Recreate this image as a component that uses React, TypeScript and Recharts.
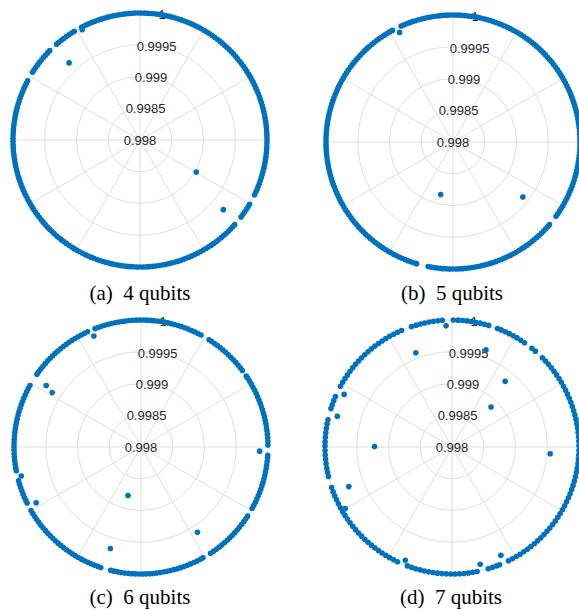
import React from 'react';
import { RadarChart, Radar, PolarGrid, PolarAngleAxis, PolarRadiusAxis } from 'recharts';

// radial scale (fidelity) and the 30° spokes of the polar grid
const R_TICKS = [0.998, 0.9985, 0.999, 0.9995, 1];
const THETA_TICKS = [0, 30, 60, 90, 120, 150, 180, 210, 240, 270, 300, 330];

// points that sit on the outer ring (fidelity ~1), angle in degrees
const RING_A = [
  0, 1.4, 2.8, 4.3, 5.7, 7.1, 8.5, 9.9, 11.4, 12.8, 14.2, 15.6, 17, 18.5, 19.9, 21.3, 22.7, 24.1, 25.6, 27, 28.4,
  29.8, 31.2, 32.7, 34.1, 35.5, 36.9, 38.3, 39.8, 41.2, 42.6, 44, 45.4, 46.9, 48.3, 49.7, 51.1, 52.5, 54, 55.4,
  56.8, 58.2, 59.6, 61.1, 62.5, 63.9, 65.3, 66.7, 68.2, 69.6, 71, 72.4, 73.8, 75.3, 76.7, 78.1, 79.5, 80.9, 82.4,
  83.8, 85.2, 86.6, 88, 89.5, 90.9, 92.3, 93.7, 95.1, 96.6, 98, 99.4, 100.8, 102.2, 103.7, 105.1, 106.5, 107.9,
  109.3, 110.8, 112.2, 113.6, 115, 116.4, 117.4,
  121.2, 122.6, 124, 125.4, 126.9, 128.3, 129.7, 131,
  135.3, 136.7, 138.1, 139.5, 141, 142.4, 143.8, 145.2, 146.6, 147.8,
  152.2, 153.6, 155, 156.4, 157.9, 159.3, 160.7, 162.1, 163.5, 165, 166.4, 167.8, 169.2, 170.6, 172.1, 173.5,
  174.9, 176.3, 177.7, 179.2, 180.6, 182, 183.4, 184.8, 186.3, 187.7, 189.1, 190.5, 191.9, 193.4, 194.8, 196.2,
  197.6, 199, 200.5, 201.9, 203.3, 204.7, 206.1, 207.6, 209, 210.4, 211.8, 213.2, 214.7, 216.1, 217.5, 218.9,
  220.3, 221.8, 223.2, 224.6, 226, 227.4, 228.9, 230.3, 231.7, 233.1, 234.5, 236, 237.4, 238.8, 240.2, 241.6,
  243.1, 244.5, 245.9, 247.3, 248.7, 250.2, 251.6, 253, 254.4, 255.8, 257.3, 258.7, 260.1, 261.5, 262.9, 264.4,
  265.8, 267.2, 268.6, 270, 271.5, 272.9, 274.3, 275.7, 277.1, 278.6, 280, 281.4, 282.8, 284.2, 285.7, 287.1,
  288.5, 289.9, 291.3, 292.8, 294.2, 295.6, 297, 298.4, 299.9, 301.3, 302.7, 304.1, 305.5, 307, 308.4, 309.8,
  311.2, 312.6, 314.1, 315.5, 316.9, 318.2,
  322.7, 324.1, 325.5, 326.9, 328.3, 329.6,
  334.3, 335.7, 337.1, 338.5, 340, 341.4, 342.8, 344.2, 345.6, 347.1, 348.5, 349.9, 351.3, 352.7, 354.2, 355.6,
  357, 358.5,
];
const INNER_A: [number, number][] = [
  [117.7, 0.99996], [132.6, 0.99965], [320.1, 0.99971], [330.3, 0.99902],
];

const RING_B = [
  0.7, 2.1, 3.5, 4.9, 6.4, 7.8, 9.2, 10.6, 12, 13.5, 14.9, 16.3, 17.7, 19.1, 20.6, 22, 23.4, 24.8, 26.2, 27.7,
  29.1, 30.5, 31.9, 33.3, 34.8, 36.2, 37.6, 39, 40.4, 41.9, 43.3, 44.7, 46.1, 47.5, 49, 50.4, 51.8, 53.2, 54.6,
  56.1, 57.5, 58.9, 60.3, 61.7, 63.2, 64.6, 66, 67.4, 68.8, 70.3, 71.7, 73.1, 74.5, 75.9, 77.4, 78.8, 80.2, 81.6,
  83, 84.5, 85.9, 87.3, 88.7, 90.1, 91.6, 93, 94.4, 95.8, 97.2, 98.7, 100.1, 101.5, 102.9, 104.3, 105.8, 107.2,
  108.6, 110, 111.4, 112.9, 114.1,
  118.5, 119.9, 121.3, 122.7, 124.2, 125.6, 127, 128.4, 129.8, 131.3, 132.7, 134.1, 135.5, 136.9, 138.4, 139.8,
  141.2, 142.6, 144, 145.5, 146.9, 148.3, 149.7, 151.1, 152.6, 154, 155.4, 156.8, 158.2, 159.7, 161.1, 162.5,
  163.9, 165.3, 166.8, 168.2, 169.6, 171, 172.4, 173.9, 175.3, 176.7, 178.1, 179.5, 181, 182.4, 183.8, 185.2,
  186.6, 188.1, 189.5, 190.9, 192.3, 193.7, 195.2, 196.6, 198, 199.4, 200.8, 202.3, 203.7, 205.1, 206.5, 207.9,
  209.4, 210.8, 212.2, 213.6, 215, 216.5, 217.9, 219.3, 220.7, 222.1, 223.6, 225, 226.4, 227.8, 229.2, 230.7,
  232.1, 233.5, 234.9, 236.3, 237.8, 239.2, 240.6, 242, 243.4, 244.9, 246.3, 247.7, 249.1, 250.5, 252, 253.3,
  258.7, 260.1, 261.5, 262.9, 264.4, 265.8, 267.2, 268.6, 270, 271.5, 272.9, 274.3, 275.7, 277.1, 278.6, 280,
  281.4, 282.8, 284.2, 285.7, 287.1, 288.5, 289.9, 291.3, 292.8, 294.2, 295.6, 297, 298.4, 299.9, 301.3, 302.7,
  304.1, 305.5, 307, 308.4, 309.8, 311.2, 312.6, 314.1, 315.5, 316.9, 318.3, 319.4,
  324.2, 325.6, 327, 328.5, 329.9, 331.3, 332.7, 334.1, 335.6, 337, 338.4, 339.8, 341.2, 342.7, 344.1, 345.5,
  346.9, 348.3, 349.8, 351.2, 352.6, 354, 355.4, 356.9, 358.3, 359.6,
];
const INNER_B: [number, number][] = [
  [116, 0.99992], [256.8, 0.99885], [321.8, 0.9994],
];

const RING_C = [
  0.9, 2.5, 4.1, 5.7, 7.3, 8.9, 10.5, 12.1, 13.7, 15.3, 16.9, 18.5, 20.1, 21.7, 23.3, 24.9, 26.5, 28.1, 29.7,
  31.3, 32.9, 34,
  37, 38.6, 40.2, 41.8, 43.4, 45, 46.6, 48.2, 49.8, 51.4, 53, 54.6, 56.2, 57.6,
  61.8, 63.4, 65, 66.6, 68.2, 69.8, 71.4, 73, 74.6, 76.2, 77.8, 79.4, 81, 82.6, 84.2, 85.8, 87.4, 89, 90.6, 92.2,
  93.8, 95.4, 97, 98.6, 100.2, 101.8, 103.4, 105, 106.6, 108.2, 109.8, 111.2,
  114.9, 116.5, 118.1, 119.7, 121.3, 122.9, 124.5, 126.1, 127.7, 129.3, 130.9, 132.5, 134.1, 135.7, 137.3, 138.9,
  140.5, 142.1, 143.7, 145,
  151, 152.6, 154.2, 155.8, 157.4, 159, 160.6, 162.2, 163.8, 165.4, 167, 168.6, 170.2, 171.8, 173.4, 175, 176.6,
  178.2, 179.8, 181.4, 183, 184.6, 186.2, 187.8, 189.4, 190.8,
  195.4, 197, 198.6, 200.2, 201.8, 203.4, 205, 206.2,
  210, 211.6, 213.2, 214.8, 216.4, 218, 219.6, 221.2, 222.8, 224.4, 226, 227.6, 229.2, 230.8, 232.4, 234, 235.6,
  237.2, 238.8, 240.4, 242, 243.6, 245.2, 246.8, 248.4, 250, 251.5,
  256.2, 257.8, 259.4, 261, 262.6, 264.2, 265.8, 267.4, 269, 270.6, 272.2, 273.8, 275.4, 277, 278.6, 280.2, 281.8,
  283.4, 285, 286.6, 288.2, 289.8, 291.4, 293, 294.6, 296.2, 297.8, 299.2,
  303.2, 304.8, 306.4, 308, 309.6, 311.2, 312.8, 314.4, 316, 317.6, 319.2, 320.8, 322.4, 324, 325.6, 327,
  331, 332.6, 334.2, 335.8, 337.4, 339, 340.6, 342.2, 343.8, 345.4, 347, 348.6, 350.2, 351.8, 353.4, 355, 356.3,
];
const INNER_C: [number, number][] = [
  [113, 0.9999], [147, 0.99978], [148.5, 0.99964], [193.6, 0.99994], [208, 0.99987],
  [253.2, 0.99967], [255, 0.99879], [303.5, 0.99961], [358, 0.99987],
];

const RING_D = [
  0.6, 2.6, 4.6, 6.6, 8.6, 10.6, 12.6, 14.6, 16.6, 18.6, 20.6, 22.6, 24.6, 26.6, 28.6, 30.6, 32.6, 34.6, 36.6,
  38.6, 40.6, 42.6, 44.6,
  49, 51,
  55.2, 57.2, 59.2, 61.2, 63.2, 65.2, 67.2, 69,
  73.2, 75.2, 77.2, 79.2, 81.2, 83.2, 85.2, 87.2, 89.4,
  94.4, 96.4, 98.4, 100.4, 102.4, 104.4, 106.4, 108.6,
  113.4, 115.4, 117.4, 119.4, 121.4, 123.4, 125.4, 127.4, 129.4, 131.4, 133.4, 135.4, 137.4, 139.4, 141.4, 143.4,
  145.4, 147.4, 149.4, 151.4,
  156.6, 158.6, 160.6, 162.4,
  167.6, 169.6, 171.6, 173.6, 175.6, 177.6, 179.6, 181.6, 183.6, 185.6, 187.6, 189.6, 191.6, 193.4,
  198.6, 200.6, 202.6, 204.6, 206.6, 208.6, 210.6, 212.6, 214.6, 216.6, 218.6, 220.6, 222.6, 224.6, 226.6, 228.6,
  230.6, 232.6, 234.6, 236.6, 238.6, 240.6, 242.6, 244.6,
  249.4, 251.4, 253.4, 255.4, 257.4, 259.4, 261.4, 263.4, 265.4, 267.4, 269.4, 271.4, 273.4, 275.4, 277.4, 279.4,
  281.4,
  286.6, 288.6, 290.6, 292,
  296.4, 298.4, 300.4, 302.4, 304.4, 306.4, 308.4, 310.4, 312.4, 314.4, 316.4, 318.4, 320.4, 322.4, 324.4, 326.4,
  328.4, 330.4, 332.4, 334.4, 336.4, 338.4, 340.4, 342.4, 344.4, 346.4, 348.4, 350.4, 352.4, 354.4, 356.4, 358.4,
];
const INNER_D: [number, number][] = [
  [45.7, 0.99888], [51, 0.99933], [70.7, 0.99962], [92.8, 0.99991], [111, 0.99959],
  [154, 0.99989], [165, 0.99987], [179.6, 0.99922], [201, 0.99974], [210, 0.99994],
  [247.6, 0.99993], [283.5, 0.9999], [294.3, 0.99987], [356.1, 0.99955],
];

const CAPTIONS = ['(a)\u00A0 4 qubits', '(b)\u00A0 5 qubits', '(c)\u00A0 6 qubits', '(d)\u00A0 7 qubits'];

const BLUE = '#0072BD';
const GRID = '#dedede';

function RadiusTick(props: any) {
  const { x, y, payload } = props;
  return (
    <text
      x={x}
      y={y}
      textAnchor="middle"
      dominantBaseline="central"
      fontSize={13}
      fill="#262626"
      fontFamily="'Liberation Sans', Arial, Helvetica, sans-serif"
    >
      {Number(Number(payload.value).toFixed(4)).toString()}
    </text>
  );
}

function PolarPanel({
  ring,
  inner,
  left,
  top,
  width,
  cx,
  cy,
}: {
  ring: number[];
  inner: [number, number][];
  left: number;
  top: number;
  width: number;
  cx: number;
  cy: number;
}) {
  const data = [
    ...ring.map(theta => ({ theta, rho: 1 })),
    ...inner.map(([theta, rho]) => ({ theta, rho })),
  ];
  return (
    <div style={{ position: 'absolute', left, top, width, height: 290, overflow: 'hidden' }}>
      <RadarChart
        width={width}
        height={290}
        data={data}
        cx={cx}
        cy={cy}
        outerRadius={127}
        startAngle={0}
        endAngle={360}
        margin={{ top: 0, right: 0, bottom: 0, left: 0 }}
      >
        <PolarGrid gridType="circle" stroke={GRID} strokeWidth={1} />
        <PolarAngleAxis
          type="number"
          dataKey="theta"
          domain={[0, 360]}
          ticks={THETA_TICKS}
          tickCount={13}
          tick={false}
          tickLine={false}
          axisLine={false}
        />
        <Radar
          dataKey="rho"
          stroke="none"
          fill="none"
          strokeOpacity={0}
          fillOpacity={0}
          dot={{ r: 2.8, fill: BLUE, stroke: 'none', strokeWidth: 0, fillOpacity: 1 }}
          isAnimationActive={false}
        />
        <PolarRadiusAxis
          type="number"
          angle={80}
          domain={[0.998, 1]}
          ticks={R_TICKS}
          tickCount={5}
          allowDataOverflow
          axisLine={false}
          tickLine={false}
          tick={RadiusTick}
        />
      </RadarChart>
    </div>
  );
}

export default function App() {
  return (
    <div style={{ position: 'absolute', left: 0, top: 0, width: 579, height: 610, background: 'white', overflow: 'hidden' }}>
      <PolarPanel ring={RING_A} inner={INNER_A} left={0} top={0} width={290} cx={140} cy={140} />
      <PolarPanel ring={RING_B} inner={INNER_B} left={290} top={0} width={289} cx={163} cy={142} />
      <PolarPanel ring={RING_C} inner={INNER_C} left={0} top={300} width={290} cx={141} cy={147} />
      <PolarPanel ring={RING_D} inner={INNER_D} left={290} top={300} width={289} cx={162} cy={147} />
      <svg width={579} height={610} style={{ position: 'absolute', left: 0, top: 0, pointerEvents: 'none' }}>
        {[
          [140, 300],
          [452, 300],
          [140, 604],
          [451, 604],
        ].map(([x, y], i) => (
          <text
            key={i}
            x={x}
            y={y}
            textAnchor="middle"
            fontSize={21}
            fill="#000"
            fontFamily="'Liberation Serif', 'Times New Roman', serif"
          >
            {CAPTIONS[i]}
          </text>
        ))}
      </svg>
    </div>
  );
}
